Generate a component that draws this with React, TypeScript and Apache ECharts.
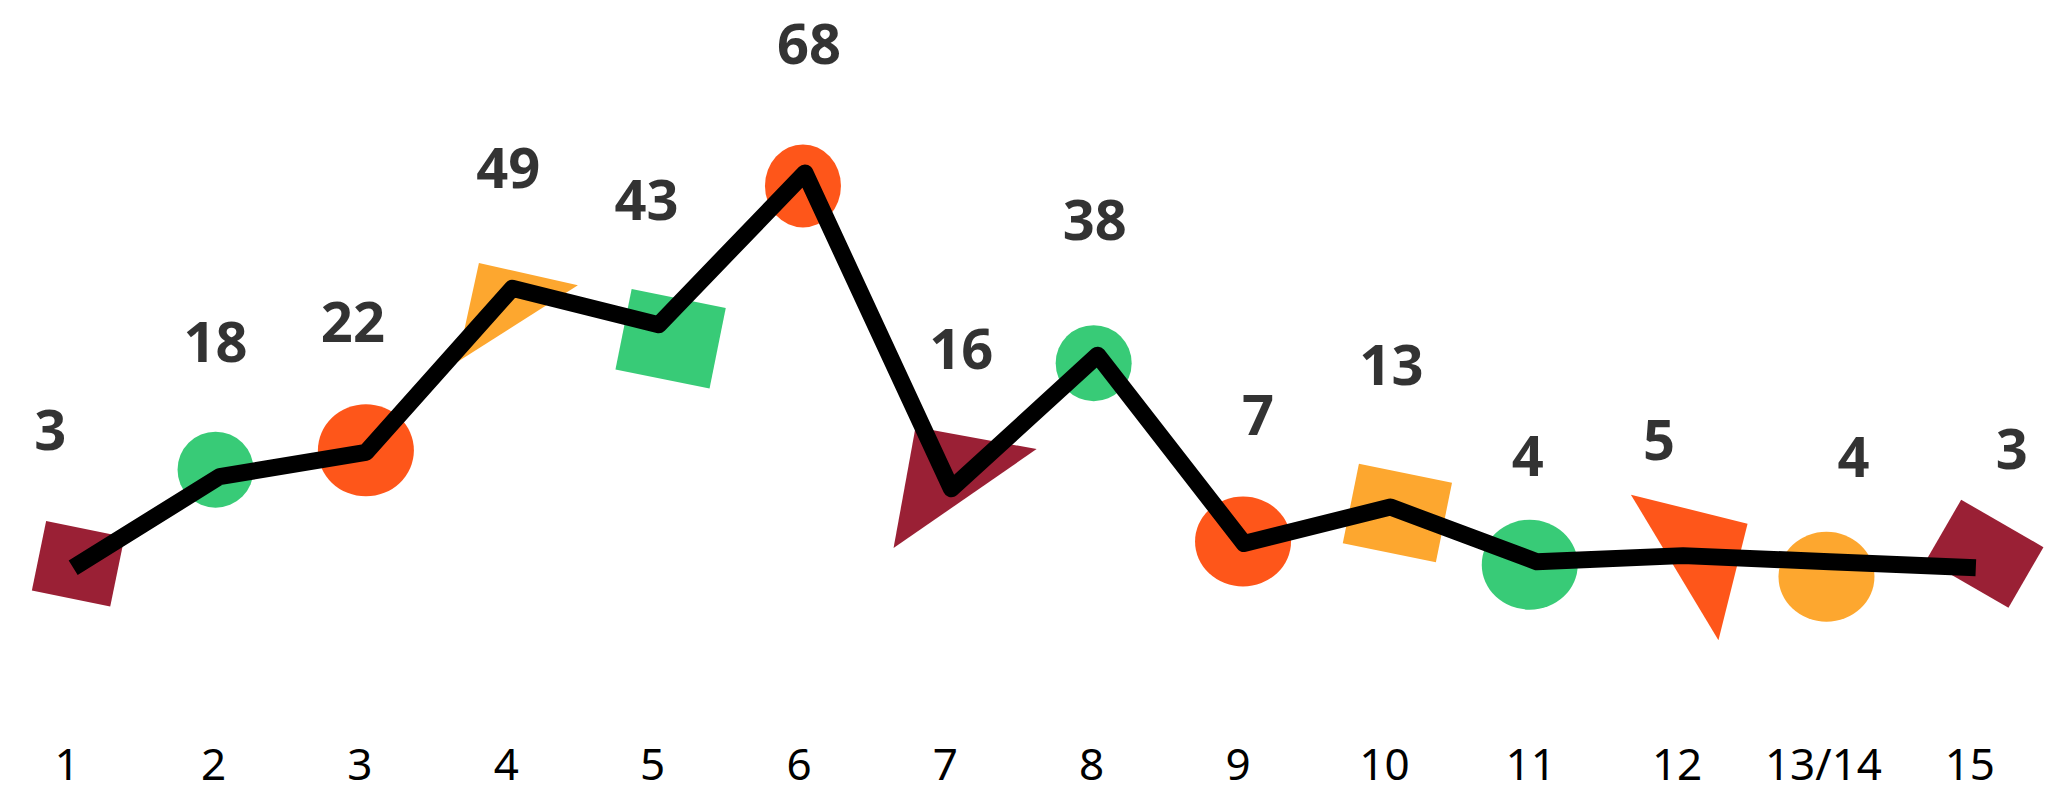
import React, { useEffect, useRef } from "react";
import * as echarts from "echarts";

// Categories along the bottom and the count for each one
const categories = ["1", "2", "3", "4", "5", "6", "7", "8", "9", "10", "11", "12", "13/14", "15"];
const counts = [3, 18, 22, 49, 43, 68, 16, 38, 7, 13, 4, 5, 4, 3];

const WINE = "#9A2035";
const GREEN = "#38CB77";
const FLAME = "#FE561A";
const AMBER = "#FDA72F";

// Ellipse outline; a path symbol stretches to the given [w, h]
const ELLIPSE = "path://M0,50 A50,50 0 1,1 100,50 A50,50 0 1,1 0,50 Z";

type Marker = {
  symbol: string;
  size: [number, number];
  rotate: number;
  offset: [number, number];
  color: string;
};

// Loose, hand-placed look for each marker
const markerLook: Marker[] = [
  { symbol: "rect", size: [80, 71], rotate: -11.6, offset: [5, -4], color: WINE },
  { symbol: ELLIPSE, size: [76, 76], rotate: 0, offset: [-4, -7], color: GREEN },
  { symbol: ELLIPSE, size: [96, 92], rotate: 0, offset: [0, -2], color: FLAME },
  { symbol: "triangle", size: [143, 72], rotate: 32.5, offset: [-14, 5], color: AMBER },
  { symbol: "rect", size: [96, 82], rotate: -11.4, offset: [12, 14], color: GREEN },
  { symbol: ELLIPSE, size: [76, 83], rotate: 0, offset: [-2, 13], color: FLAME },
  { symbol: "triangle", size: [174, 87], rotate: 34.7, offset: [-11, -26], color: WINE },
  { symbol: ELLIPSE, size: [76, 76], rotate: 0, offset: [-4, 8], color: GREEN },
  { symbol: ELLIPSE, size: [96, 90], rotate: 0, offset: [-1, -2], color: FLAME },
  { symbol: "rect", size: [95, 81], rotate: -11.5, offset: [7, 6], color: AMBER },
  { symbol: ELLIPSE, size: [96, 90], rotate: 0, offset: [-7, 3], color: GREEN },
  { symbol: "triangle", size: [170, 85], rotate: -59, offset: [28, -10], color: FLAME },
  { symbol: ELLIPSE, size: [96, 90], rotate: 0, offset: [-3, 15], color: AMBER },
  { symbol: "rect", size: [95, 70], rotate: -30, offset: [9, -14], color: WINE },
];

// Where each count label sits relative to its point
const labelNudge: [number, number][] = [
  [-23, -140], [-4, -137], [-13, -132], [-4, -122], [-12, -127], [4, -131], [10, -142],
  [-3, -137], [14, -130], [1, -144], [-9, -108], [-24, -118], [24, -107], [36, -121],
];

const FONT = "'Noto Sans', 'Open Sans', sans-serif";

const option: echarts.EChartsOption = {
  animation: false,
  backgroundColor: "#ffffff",
  grid: { left: -6, top: 100, width: 2085, height: 486 },
  xAxis: {
    type: "category",
    data: categories,
    boundaryGap: true,
    axisLine: { show: false },
    axisTick: { show: false },
    splitLine: { show: false },
    axisLabel: {
      interval: 0,
      margin: 177,
      verticalAlign: "middle",
      lineHeight: 40,
      fontSize: 44,
      fontFamily: FONT,
      color: "#000",
      padding: [0, 12, 0, 0],
    },
  },
  yAxis: { type: "value", min: 0, max: 80, show: false },
  series: [
    {
      type: "scatter",
      z: 1,
      silent: true,
      data: counts.map((v, i) => ({
        value: v,
        symbol: markerLook[i].symbol,
        symbolSize: markerLook[i].size,
        symbolRotate: markerLook[i].rotate,
        symbolOffset: markerLook[i].offset,
        itemStyle: { color: markerLook[i].color, opacity: 1 },
      })),
    },
    {
      type: "line",
      z: 2,
      silent: true,
      symbol: "none",
      showSymbol: false,
      data: counts,
      lineStyle: { color: "#000", width: 17, cap: "butt", join: "round" },
    },
    {
      type: "scatter",
      z: 3,
      silent: true,
      symbolSize: 1,
      itemStyle: { color: "rgba(0,0,0,0)" },
      label: {
        show: true,
        position: "inside",
        formatter: (p: any) => String(counts[p.dataIndex]),
        fontSize: 56,
        fontWeight: "bold",
        fontFamily: FONT,
        color: "#000",
      },
      data: counts.map((v, i) => ({ value: v, label: { offset: labelNudge[i] } })),
    },
  ],
};

export default function App() {
  const ref = useRef<HTMLDivElement>(null);
  useEffect(() => {
    const chart = echarts.init(ref.current!, null, { renderer: "svg" });
    chart.setOption(option);
    return () => chart.dispose();
  }, []);
  return (
    <div
      ref={ref}
      style={{ position: "fixed", left: 0, top: 0, width: 2049, height: 794, background: "#fff" }}
    />
  );
}
